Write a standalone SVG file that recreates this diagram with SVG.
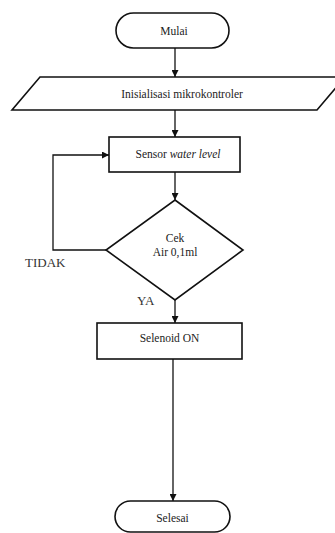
<svg xmlns="http://www.w3.org/2000/svg" width="335" height="533" viewBox="0 0 335 533">
<style>
.s{fill:#fff;stroke:#111;stroke-width:1.6}
.c{fill:none;stroke:#111;stroke-width:1.3}
.t{font-family:'Liberation Serif','Times New Roman',serif;font-size:11.5px;fill:#222;text-anchor:middle}
.l{font-family:'Liberation Serif','Times New Roman',serif;font-size:13px;fill:#333}
</style>
<defs>
<marker id="a" viewBox="0 0 8 8" refX="8" refY="4" markerWidth="7" markerHeight="7" markerUnits="userSpaceOnUse" orient="auto">
<path d="M0,0 L8,4 L0,8 Z" fill="#111"/>
</marker>
</defs>
<rect width="335" height="533" fill="#fff"/>
<g id="connectors">
<line class="c" x1="175" y1="48" x2="175" y2="77" marker-end="url(#a)"/>
<line class="c" x1="175" y1="110" x2="175" y2="137" marker-end="url(#a)"/>
<line class="c" x1="175" y1="172" x2="175" y2="200" marker-end="url(#a)"/>
<line class="c" x1="175" y1="300" x2="175" y2="323" marker-end="url(#a)"/>
<line class="c" x1="173" y1="359" x2="173" y2="501" marker-end="url(#a)"/>
<polyline class="c" points="106,250 53,250 53,155 109,155" marker-end="url(#a)"/>
</g>
<g id="mulai">
<rect class="s" x="116" y="13" width="113" height="35" rx="17.5"/>
<text class="t" x="174" y="35">Mulai</text>
</g>
<g id="inisialisasi">
<polygon class="s" points="40,77 345,77 317,110 12,110"/>
<text class="t" x="182" y="98">Inisialisasi mikrokontroler</text>
</g>
<g id="sensor">
<rect class="s" x="109" y="137" width="131" height="35"/>
<text class="t" x="178" y="158">Sensor <tspan font-style="italic">water level</tspan></text>
</g>
<g id="cek">
<polygon class="s" points="175,200 243,250 175,300 106,250"/>
<text class="t" x="175" y="242">Cek</text>
<text class="t" x="175" y="256">Air 0,1ml</text>
</g>
<g id="selenoid">
<rect class="s" x="97" y="323" width="145" height="36"/>
<text class="t" x="169.5" y="342">Selenoid ON</text>
</g>
<g id="selesai">
<rect class="s" x="115" y="501" width="115" height="31" rx="15.5"/>
<text class="t" x="172.5" y="522">Selesai</text>
</g>
<g id="labels">
<text class="l" x="25" y="267">TIDAK</text>
<text class="l" x="137" y="305">YA</text>
</g>
</svg>
